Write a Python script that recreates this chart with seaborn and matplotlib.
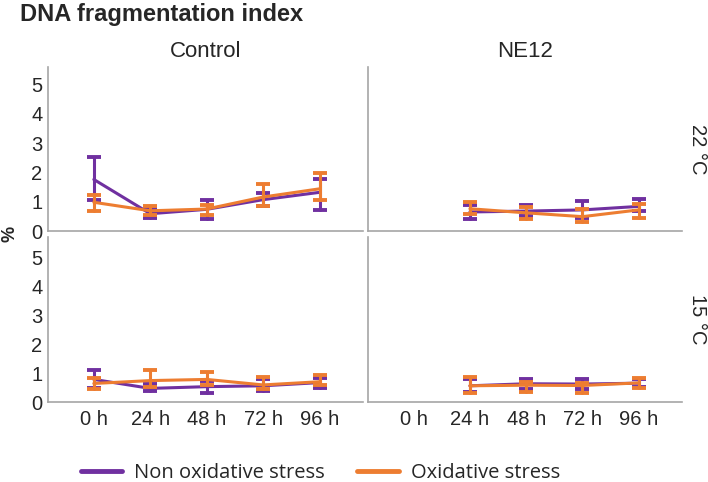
import numpy as np
import pandas as pd
import seaborn as sns
import matplotlib
matplotlib.use('Agg')
import matplotlib.pyplot as plt
from matplotlib.lines import Line2D

sns.set_theme(style='white')
plt.rcParams['font.family'] = ['Liberation Sans', 'DejaVu Sans']

nan = np.nan
times = ['0 h', '24 h', '48 h', '72 h', '96 h']
hours = [0, 24, 48, 72, 96]
strains = ['Control', 'NE12']
temps = ['22 °C', '15 °C']
groups = ['Non oxidative stress', 'Oxidative stress']
colors = ['#7030A0', '#ED7D31']

# Control, 22 °C
ctrl22_non_mean = [1.76, 0.59, 0.74, 1.07, 1.32]
ctrl22_non_lo = [1.07, 0.45, 0.42, 0.84, 0.72]
ctrl22_non_hi = [2.51, 0.80, 1.07, 1.30, 1.78]
ctrl22_ox_mean = [0.98, 0.69, 0.75, 1.16, 1.44]
ctrl22_ox_lo = [0.69, 0.55, 0.55, 0.84, 1.07]
ctrl22_ox_hi = [1.24, 0.86, 0.90, 1.59, 1.99]
# NE12, 22 °C
ne22_non_mean = [nan, 0.65, 0.68, 0.72, 0.84]
ne22_non_lo = [nan, 0.42, 0.50, 0.44, 0.67]
ne22_non_hi = [nan, 0.88, 0.90, 1.01, 1.09]
ne22_ox_mean = [nan, 0.76, 0.62, 0.49, 0.72]
ne22_ox_lo = [nan, 0.58, 0.40, 0.32, 0.44]
ne22_ox_hi = [nan, 0.98, 0.82, 0.74, 0.92]
# Control, 15 °C
ctrl15_non_mean = [0.78, 0.47, 0.53, 0.56, 0.67]
ctrl15_non_lo = [0.50, 0.39, 0.32, 0.39, 0.47]
ctrl15_non_hi = [1.10, 0.62, 0.74, 0.78, 0.82]
ctrl15_ox_mean = [0.64, 0.74, 0.78, 0.59, 0.70]
ctrl15_ox_lo = [0.44, 0.53, 0.59, 0.44, 0.59]
ctrl15_ox_hi = [0.82, 1.10, 1.05, 0.87, 0.92]
# NE12, 15 °C
ne15_non_mean = [nan, 0.56, 0.63, 0.62, 0.65]
ne15_non_lo = [nan, 0.35, 0.44, 0.44, 0.52]
ne15_non_hi = [nan, 0.80, 0.79, 0.80, 0.78]
ne15_ox_mean = [nan, 0.56, 0.58, 0.57, 0.66]
ne15_ox_lo = [nan, 0.30, 0.33, 0.30, 0.47]
ne15_ox_hi = [nan, 0.87, 0.70, 0.67, 0.84]

series = {
    ('Control', '22 °C'): [(ctrl22_non_mean, ctrl22_non_lo, ctrl22_non_hi),
                           (ctrl22_ox_mean, ctrl22_ox_lo, ctrl22_ox_hi)],
    ('NE12', '22 °C'): [(ne22_non_mean, ne22_non_lo, ne22_non_hi),
                        (ne22_ox_mean, ne22_ox_lo, ne22_ox_hi)],
    ('Control', '15 °C'): [(ctrl15_non_mean, ctrl15_non_lo, ctrl15_non_hi),
                           (ctrl15_ox_mean, ctrl15_ox_lo, ctrl15_ox_hi)],
    ('NE12', '15 °C'): [(ne15_non_mean, ne15_non_lo, ne15_non_hi),
                        (ne15_ox_mean, ne15_ox_lo, ne15_ox_hi)],
}

# long table: lo / mean / hi rows per point -> median + full range as bars
rows = []
for (strain, temp), grp_vals in series.items():
    for g, (m, lo, hi) in zip(groups, grp_vals):
        for h, a, b, c in zip(hours, m, lo, hi):
            if np.isnan(a):
                continue
            for v in (b, a, c):
                rows.append(dict(strain=strain, temp=temp, group=g, hour=h, value=v))
df = pd.DataFrame(rows)

W, H = 708, 482
fig = plt.figure(figsize=(W / 100, H / 100), dpi=100)

col_x = [(48, 315), (368, 314)]
row_y = [(67, 231), (237, 402)]
grey = '#A6A6A6'

for r, temp in enumerate(temps):
    for c, strain in enumerate(strains):
        x0, w = col_x[c]
        top, bot = row_y[r]
        ax = fig.add_axes([x0 / W, 1 - bot / H, w / W, (bot - top) / H])
        sub = df[(df.strain == strain) & (df.temp == temp)]
        sns.lineplot(data=sub, x='hour', y='value', hue='group', hue_order=groups,
                     palette=colors, estimator='median', errorbar=('pi', 100),
                     err_style='bars', linewidth=2.2, legend=False, ax=ax,
                     err_kws=dict(capsize=4.8, capthick=2.8, elinewidth=2.2))
        ax.set_xlim(-19.5, 114.5)
        ax.set_ylim(0, 5.6 if r == 0 else 5.7)
        ax.set_xticks(hours)
        ax.set_yticks([0, 1, 2, 3, 4, 5])
        ax.set_xlabel('')
        ax.set_ylabel('')
        ax.tick_params(length=0, labelsize=14.5)
        ax.tick_params(axis='x', pad=6)
        ax.tick_params(axis='y', pad=4)
        if r == 1:
            ax.set_xticklabels(times)
        else:
            ax.set_xticklabels([])
        if c != 0:
            ax.set_yticklabels([])
        for s in ['top', 'right']:
            ax.spines[s].set_visible(False)
        for s in ['left', 'bottom']:
            ax.spines[s].set_color(grey)
            ax.spines[s].set_linewidth(1.2)
        ax.set_facecolor('white')
        if r == 0:
            ax.set_title(strain, fontsize=16, pad=7)
        if c == 1:
            fig.text(698 / W, 1 - ((top + bot) / 2) / H, temp, rotation=270,
                     ha='center', va='center', fontsize=14.5)

fig.text(20 / W, 1 - 14 / H, 'DNA fragmentation index', fontsize=17,
         fontweight='bold', ha='left', va='center')
fig.text(10 / W, 1 - 234 / H, '%', rotation=90, fontsize=13,
         fontweight='bold', ha='center', va='center')

handles = [Line2D([], [], color=col, lw=3.5) for col in colors]
fig.legend(handles, groups, loc='center left', bbox_to_anchor=(81 / W, 1 - 473 / H),
           ncol=2, frameon=False, borderpad=0, borderaxespad=0, handlelength=2.05,
           handletextpad=0.6, columnspacing=1.6,
           prop=dict(family=['Open Sans', 'DejaVu Sans'], size=14.5))

fig.savefig('out.png', dpi=100)
